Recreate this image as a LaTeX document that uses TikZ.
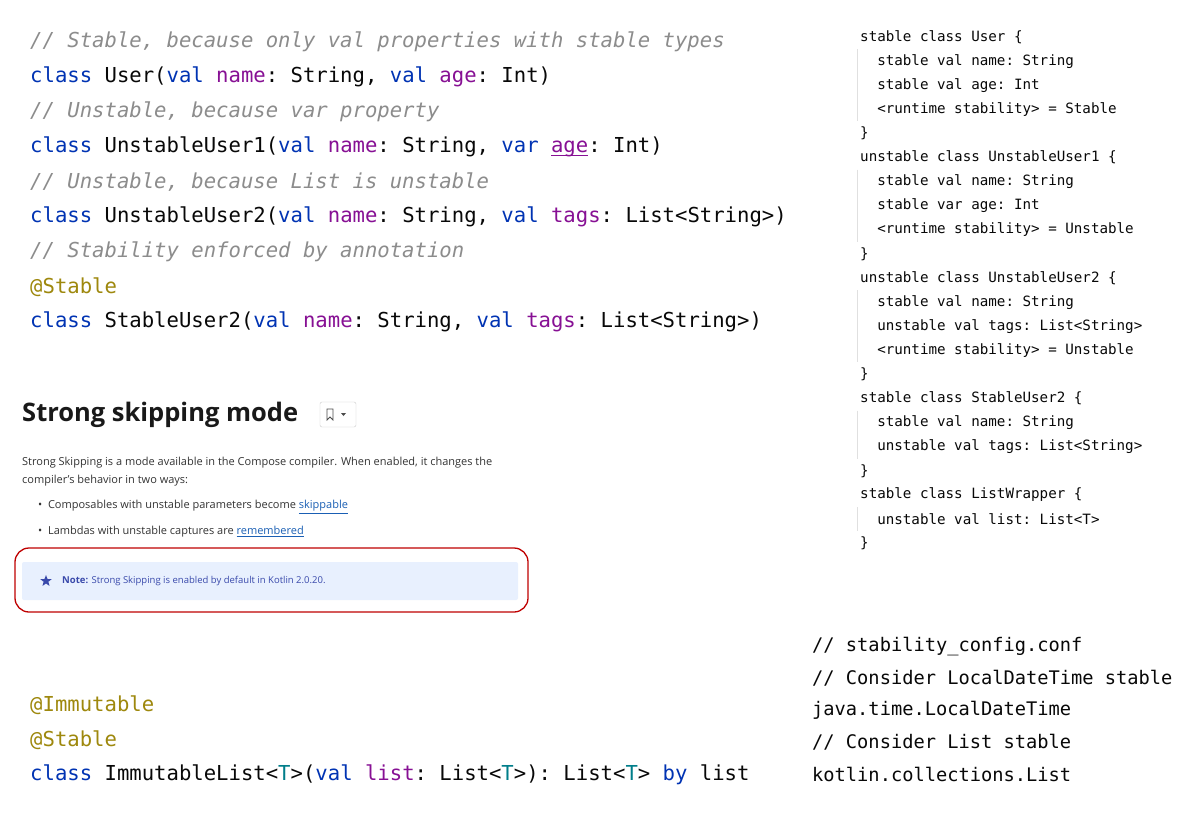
\documentclass[tikz,border=0pt]{standalone}
\usepackage{fontspec}
\setmainfont{Open Sans}
\setmonofont{DejaVu Sans Mono}
\usetikzlibrary{shapes.geometric}
\definecolor{cmt}{HTML}{8C8C8C}
\definecolor{kw}{HTML}{0033B3}
\definecolor{prop}{HTML}{871094}
\definecolor{ann}{HTML}{9E880D}
\definecolor{tp}{HTML}{007E8A}
\definecolor{txt}{HTML}{080808}
\definecolor{link}{HTML}{1A5FB4}
\definecolor{notebg}{HTML}{E8F0FE}
\definecolor{notefg}{HTML}{3949AB}
\newcommand{\K}[1]{\textcolor{kw}{#1}}
\newcommand{\Pp}[1]{\textcolor{prop}{#1}}
\newcommand{\A}[1]{\textcolor{ann}{#1}}
\newcommand{\Tp}[1]{\textcolor{tp}{#1}}
\begin{document}
\begin{tikzpicture}[x=1pt,y=-1pt,
  big/.style={anchor=west,inner sep=0pt,font=\ttfamily\fontsize{20.6}{24}\selectfont,text=txt},
  cmline/.style={big,text=cmt,font=\ttfamily\itshape\fontsize{20.6}{24}\selectfont},
  sm/.style={anchor=west,inner sep=0pt,font=\ttfamily\fontsize{14.2}{17}\selectfont,text=txt},
  md/.style={anchor=west,inner sep=0pt,font=\ttfamily\fontsize{18.7}{22}\selectfont,text=txt},
  body/.style={anchor=west,inner sep=0pt,font=\fontsize{11}{13}\selectfont,text=black!80}]
\useasboundingbox (0,0) rectangle (1200,814);
\fill[white] (0,0) rectangle (1200,814);
% top-left code
\node[cmline] (c1) at (30,42) {// Stable, because only val properties with stable types};
\node[big] (l1) at (30,77) {\K{class} User(\K{val} \Pp{name}: String, \K{val} \Pp{age}: Int)};
\node[cmline] (c2) at (30,112) {// Unstable, because var property};
\node[big] (l2) at (30,147) {\K{class} UnstableUser1(\K{val} \Pp{name}: String, \K{var} \Pp{age}: Int)};
\draw[prop,line width=1pt] (551,155) -- (588,155);
\node[cmline] (c3) at (30,182) {// Unstable, because List is unstable};
\node[big] (l3) at (30,217) {\K{class} UnstableUser2(\K{val} \Pp{name}: String, \K{val} \Pp{tags}: List<String>)};
\node[cmline] (c4) at (30,252) {// Stability enforced by annotation};
\node[big] (a1) at (30,287) {\A{@Stable}};
\node[big] (l4) at (30,322) {\K{class} StableUser2(\K{val} \Pp{name}: String, \K{val} \Pp{tags}: List<String>)};
% right code
\foreach \i/\t in {0/{stable class User \{},1/{\ \ stable val name: String},2/{\ \ stable val age: Int},3/{\ \ <runtime stability> = Stable},4/{\}},
5/{unstable class UnstableUser1 \{},6/{\ \ stable val name: String},7/{\ \ stable var age: Int},8/{\ \ <runtime stability> = Unstable},9/{\}},
10/{unstable class UnstableUser2 \{},11/{\ \ stable val name: String},12/{\ \ unstable val tags: List<String>},13/{\ \ <runtime stability> = Unstable},14/{\}},
15/{stable class StableUser2 \{},16/{\ \ stable val name: String},17/{\ \ unstable val tags: List<String>},18/{\}},
19/{stable class ListWrapper \{},20/{\ \ unstable val list: List<T>},21/{\}}}
  \node[sm] (r\i) at (860,37+24.1*\i) {\t};
\foreach \a/\b in {1/3,6/8,11/13,16/17,20/20}
  \draw[black!12,line width=1pt] (857,37+24.1*\a-12) -- (857,37+24.1*\b+12);
% strong skipping
\node[anchor=west,inner sep=0pt,font=\fontsize{25.5}{30}\selectfont\bfseries,text=black!90] (h) at (22,415) {Strong skipping mode};
\draw[black!20,rounded corners=2pt,fill=white] (320,402) rectangle (356,427);
\draw[black!70,line width=0.8pt] (327,409) -- (327,420) -- (330,417) -- (333,420) -- (333,409) -- cycle;
\fill[black!70] (341,413) -- (346,413) -- (343.5,416) -- cycle;
\node[body] (b1) at (22,463) {Strong Skipping is a mode available in the Compose compiler. When enabled, it changes the};
\node[body] (b2) at (22,481) {compiler's behavior in two ways:};
\node[body] (b3) at (38,507) {•\ \ Composables with unstable parameters become \textcolor{link}{\underline{skippable}}};
\node[body] (b4) at (38,532) {•\ \ Lambdas with unstable captures are \textcolor{link}{\underline{remembered}}};
\fill[notebg,rounded corners=2pt] (22,562) rectangle (518,600);
\node[star,star points=5,star point ratio=2.4,fill=notefg,inner sep=0pt,minimum size=12pt] (st) at (46,581) {};
\node[anchor=west,inner sep=0pt,font=\fontsize{9.5}{11}\selectfont,text=notefg] (n) at (62,581) {\textbf{Note:} Strong Skipping is enabled by default in Kotlin 2.0.20.};
\draw[red!75!black,line width=1.3pt,rounded corners=14pt] (15,548) rectangle (528,612);
% bottom-left
\node[big] (a2) at (30,705) {\A{@Immutable}};
\node[big] (a3) at (30,740) {\A{@Stable}};
\node[big] (l5) at (30,775) {\K{class} ImmutableList<\Tp{T}>(\K{val} \Pp{list}: List<\Tp{T}>): List<\Tp{T}> \K{by} list};
% bottom-right
\node[md] (m1) at (812,647) {// stability\_config.conf};
\node[md] (m2) at (812,678) {// Consider LocalDateTime stable};
\node[md] (m3) at (812,710) {java.time.LocalDateTime};
\node[md] (m4) at (812,742) {// Consider List stable};
\node[md] (m5) at (812,774) {kotlin.collections.List};
\end{tikzpicture}
\end{document}
